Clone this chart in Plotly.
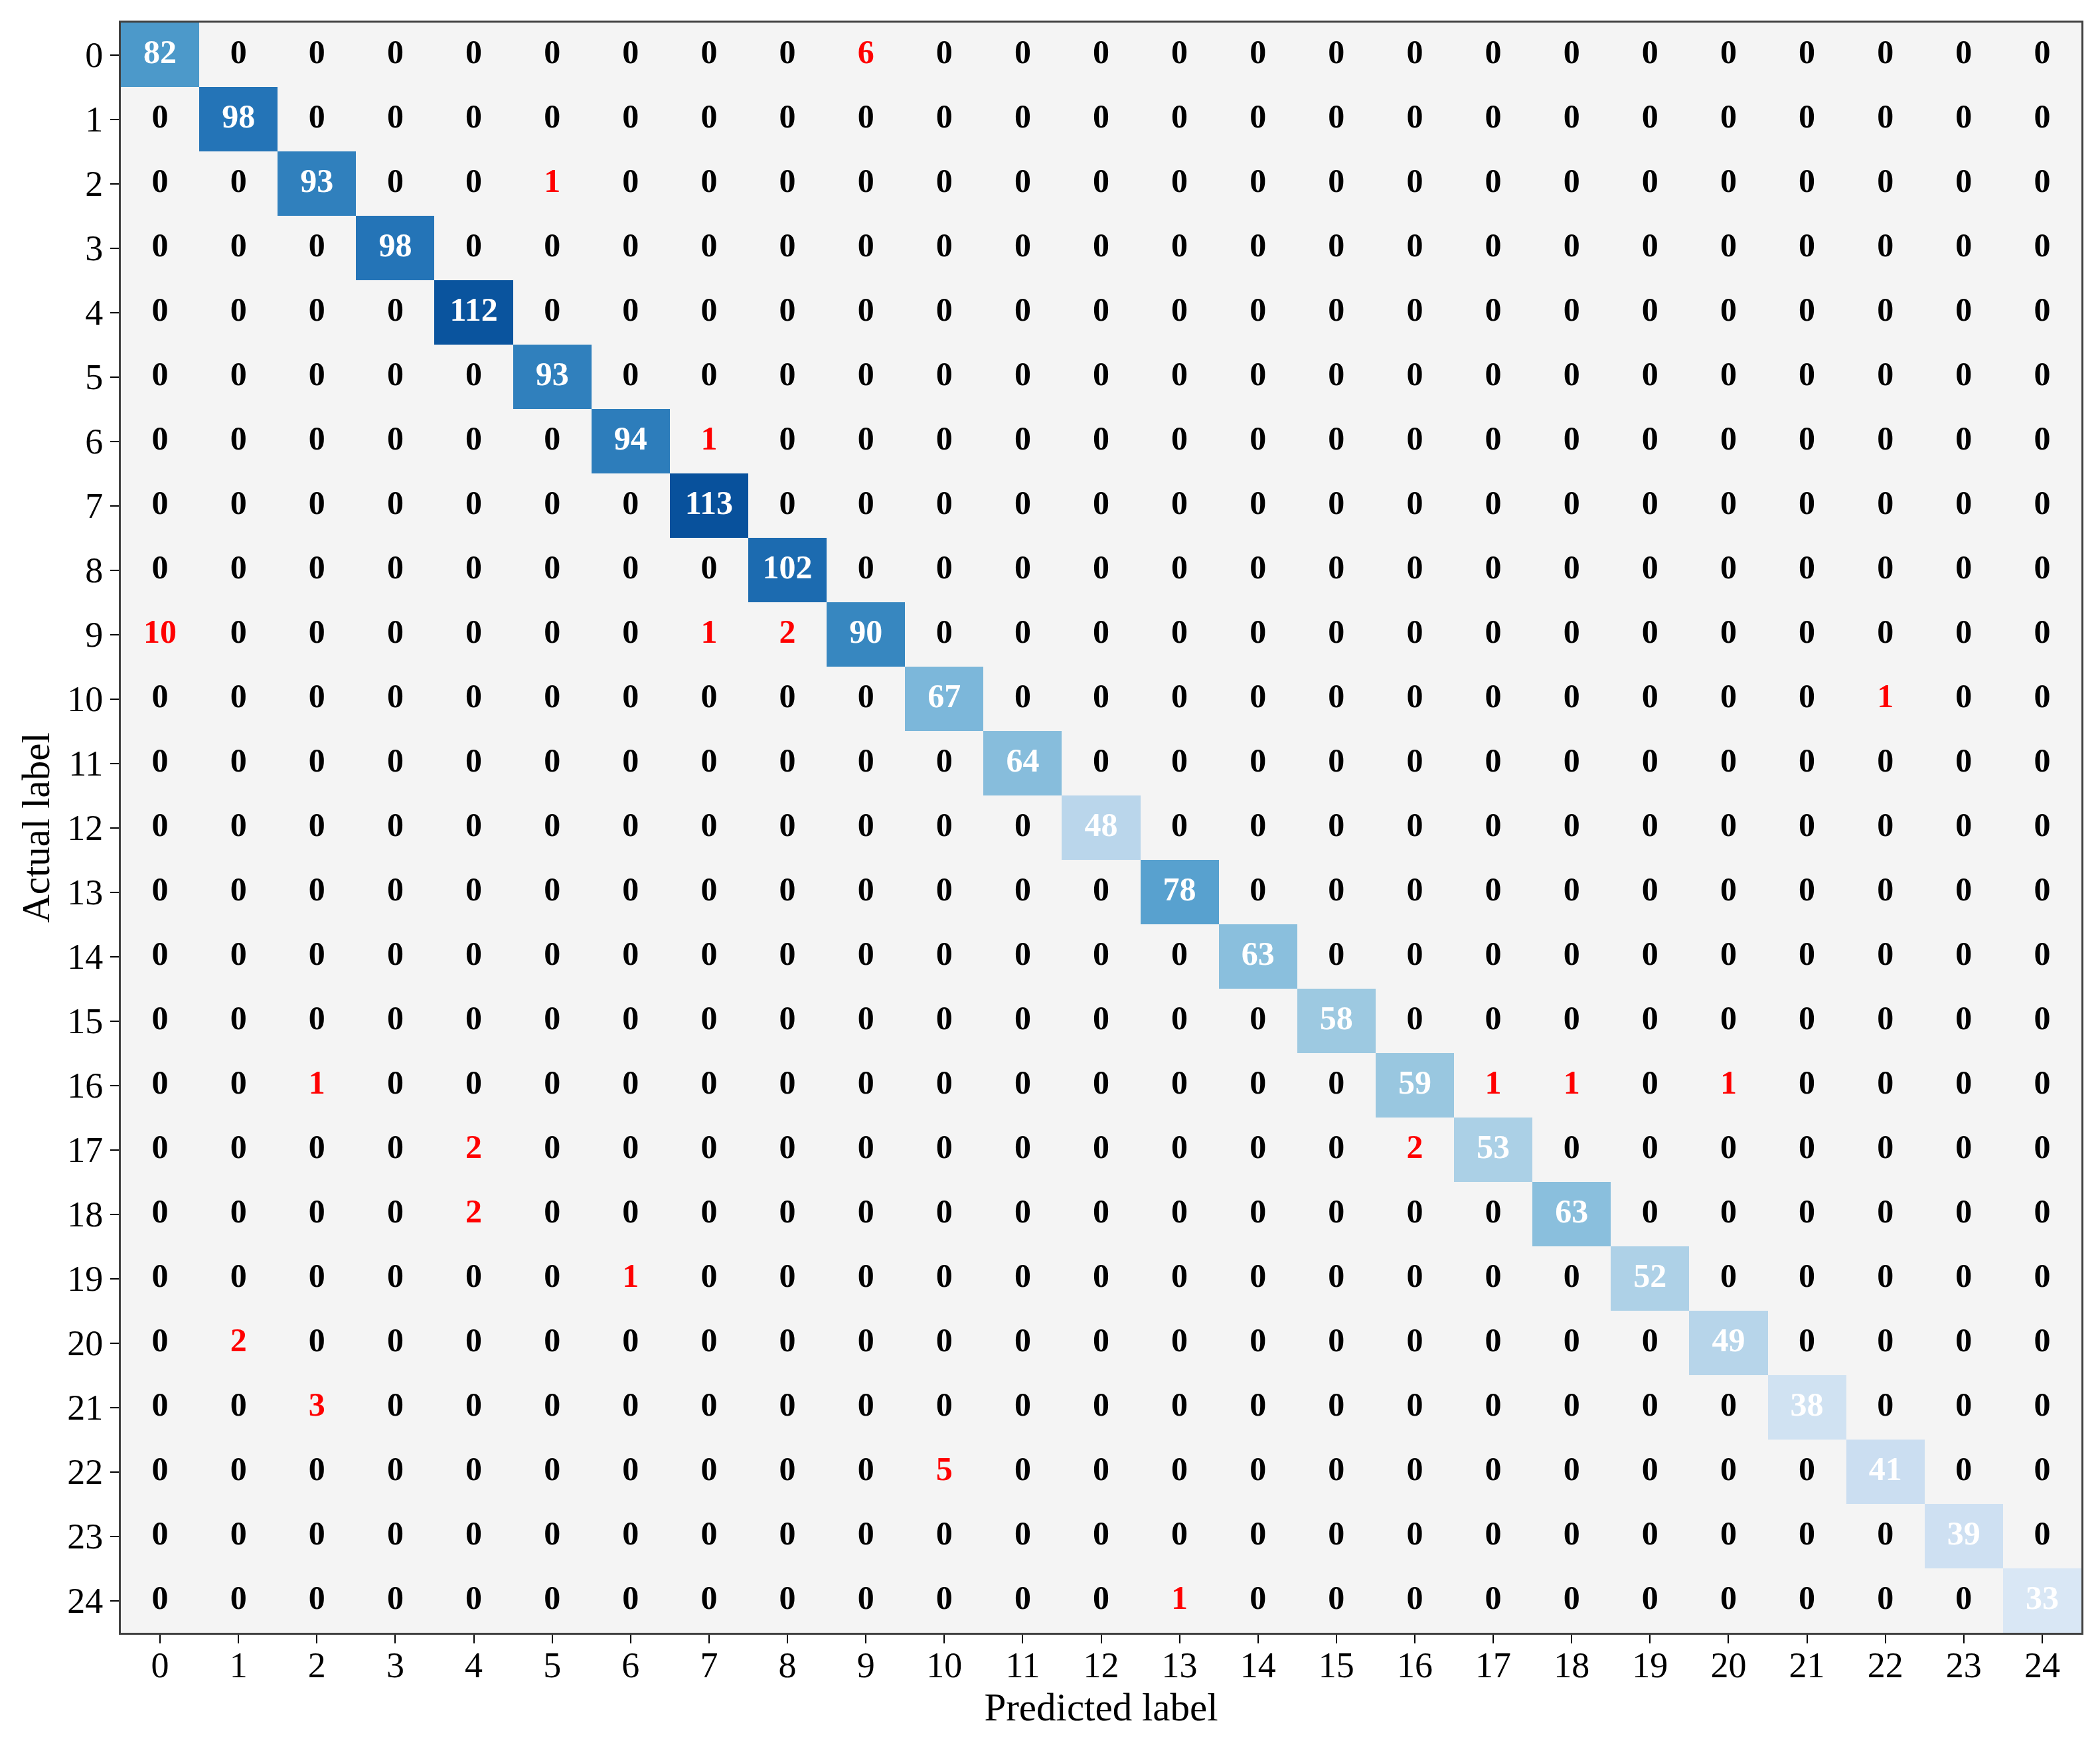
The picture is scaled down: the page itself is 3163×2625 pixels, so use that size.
import plotly.graph_objects as go
import plotly.colors as pc

# class labels 0..24
labels = [str(i) for i in range(25)]

# correctly classified counts (diagonal)
diag_counts = [82, 98, 93, 98, 112, 93, 94, 113, 102, 90, 67, 64, 48,
               78, 63, 58, 59, 53, 63, 52, 49, 38, 41, 39, 33]

# misclassifications: actual, predicted, count
err_actual = [0, 2, 6, 9, 9, 9, 10, 16, 16, 16, 16, 17, 17, 18, 19, 20, 21, 22, 24]
err_pred = [9, 5, 7, 0, 7, 8, 22, 2, 17, 18, 20, 4, 16, 4, 6, 1, 2, 10, 13]
err_count = [6, 1, 1, 10, 1, 2, 1, 1, 1, 1, 1, 2, 2, 2, 1, 2, 3, 5, 1]

n = len(labels)
cm = [[0] * n for _ in range(n)]
for i, v in enumerate(diag_counts):
    cm[i][i] = v
for a, p, c in zip(err_actual, err_pred, err_count):
    cm[a][p] = c

# only the diagonal is coloured, the rest shows the grey background
z_diag = [[cm[i][j] if i == j else None for j in range(n)] for i in range(n)]

fig = go.Figure()
fig.add_trace(go.Heatmap(
    z=z_diag, x=list(range(n)), y=list(range(n)),
    colorscale=pc.sequential.Blues, zmin=16, zmax=127,
    showscale=False, hoverongaps=False,
))

# cell numbers
tx, ty, tt, tc = [], [], [], []
for i in range(n):
    for j in range(n):
        tx.append(j)
        ty.append(i)
        tt.append(str(cm[i][j]))
        if i == j:
            tc.append("white")
        elif cm[i][j] > 0:
            tc.append("#ff0000")
        else:
            tc.append("black")

fig.add_trace(go.Scatter(
    x=tx, y=ty, text=tt, mode="text",
    textfont=dict(family="Liberation Serif", size=50, color=tc, weight="bold"),
    hoverinfo="skip", showlegend=False,
))

axis_common = dict(
    tickmode="array", tickvals=list(range(n)), ticktext=labels,
    ticks="outside", ticklen=13, tickwidth=2, tickcolor="black",
    showline=True, linecolor="#404040", linewidth=3, mirror=True,
    showgrid=False, zeroline=False,
    tickfont=dict(family="Liberation Serif", size=54, color="black"),
)

fig.update_xaxes(
    range=[-0.5, n - 0.5],
    ticklabelstandoff=-14,
    title=dict(text="Predicted label", standoff=0,
               font=dict(family="Liberation Serif", size=59, color="black")),
    **axis_common,
)
fig.update_yaxes(
    range=[n - 0.5, -0.5],
    title=dict(text="Actual label", standoff=8,
               font=dict(family="Liberation Serif", size=59, color="black")),
    **axis_common,
)

fig.update_layout(
    width=3163, height=2625,
    margin=dict(l=174, r=36, t=26, b=174),
    plot_bgcolor="#f4f4f4",
    paper_bgcolor="white",
    showlegend=False,
)

fig.write_html("out.html")
